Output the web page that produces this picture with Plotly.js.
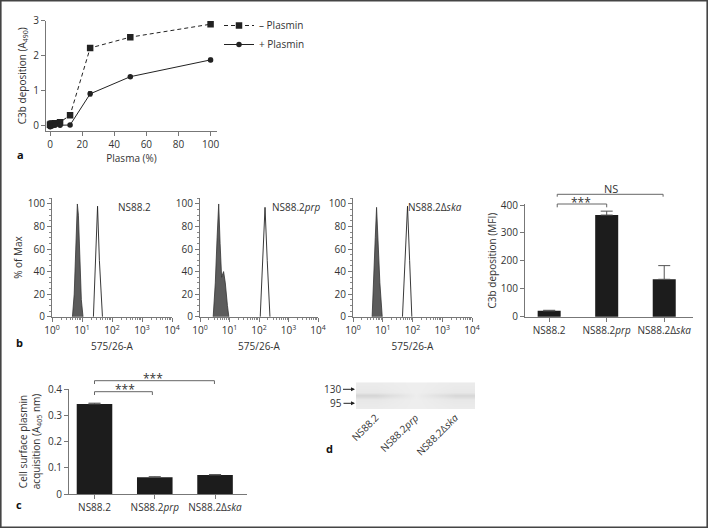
<!DOCTYPE html>
<html><head><meta charset="utf-8">
<script src="https://cdn.plot.ly/plotly-3.0.1.min.js"></script>
<style>html,body{margin:0;padding:0;background:#fff}#chart{width:708px;height:528px}</style>
</head><body><div id="chart"></div><script>
// ---------- Panel a: C3b deposition vs plasma ----------
const plasmaPct = [0, 0.39, 0.78, 1.56, 3.125, 6.25, 12.5, 25, 50, 100];
const c3bMinusPlasmin = [0.03, 0.05, 0.05, 0.06, 0.07, 0.10, 0.30, 2.22, 2.53, 2.90];
const c3bMinusErr = [0.02, 0.02, 0.02, 0.02, 0.02, 0.02, 0.03, 0.04, 0.04, 0.05];
const c3bPlusPlasmin = [-0.03, -0.02, 0.00, 0.00, 0.01, 0.01, 0.02, 0.91, 1.40, 1.88];
const c3bPlusErr = [0.02, 0.02, 0.02, 0.02, 0.02, 0.02, 0.02, 0.06, 0.03, 0.05];
const legendNames = ['\u2013 Plasmin', '+ Plasmin'];

// ---------- Panel b: flow cytometry histograms (575/26-A, % of Max) ----------
const hist1FilledX = [4.8, 5.5, 6.2, 7.0, 7.6, 8.5, 9.5, 10.8];
const hist1FilledY = [0, 20, 60, 100, 90, 50, 15, 0];
const hist1OpenX = [24, 28, 33, 38, 48];
const hist1OpenY = [0, 50, 98, 50, 0];
const hist2FilledX = [2.8, 3.3, 3.8, 4.3, 4.8, 5.4, 6.3, 7.2, 8.5, 9.5];
const hist2FilledY = [0, 30, 70, 100, 65, 35, 40, 30, 10, 0];
const hist2OpenX = [110, 135, 160, 190, 235];
const hist2OpenY = [0, 50, 97, 50, 0];
const hist3FilledX = [4.4, 5.0, 5.6, 6.2, 7.0, 8.0, 9.6];
const hist3FilledY = [0, 30, 70, 97, 60, 30, 0];
const hist3OpenX = [46, 56, 68, 80, 95];
const hist3OpenY = [0, 50, 98, 50, 0];
const histLabels = ['NS88.2', 'NS88.2<i>prp</i>', 'NS88.2\u0394<i>ska</i>'];

// ---------- Panel b (right) and c: bar charts ----------
const strains = ['NS88.2', 'NS88.2<i>prp</i>', 'NS88.2\u0394<i>ska</i>'];
const mfiValues = [21, 364, 134];
const mfiErr = [2, 14, 49];
const plasminValues = [0.344, 0.064, 0.073];
const plasminErr = [0.003, 0.002, 0.001];

// ---------- Panel d: western blot (lane intensity, bottom row first) ----------
const blotRows = [0, 1, 2, 3, 4, 5, 6];
const blotIntensity = [
  [0.07, 0.04, 0.07],
  [0.08, 0.04, 0.08],
  [0.10, 0.04, 0.10],
  [0.26, 0.05, 0.24],
  [0.10, 0.04, 0.10],
  [0.08, 0.04, 0.08],
  [0.07, 0.04, 0.07]
];
const blotMarkers = ['130', '95'];

// ---------- layout helpers ----------
const W = 708, H = 528;
const px = v => v / W, py = v => 1 - v / H;
const FF = 'Open Sans, sans-serif';
const font = {family: FF, size: 10, color: '#333'};
const axBase = {showline: true, linecolor: '#777', linewidth: 1, ticks: 'outside', ticklen: 4,
  tickcolor: '#777', showgrid: false, zeroline: false, tickfont: font, fixedrange: true};
const ax = o => Object.assign({}, axBase, o);

const majorLog = [1, 10, 100, 1000, 10000];
const majorLogText = ['10<sup>0</sup>', '10<sup>1</sup>', '10<sup>2</sup>', '10<sup>3</sup>', '10<sup>4</sup>'];
const minorLog = [];
for (let d = 1; d < 10000; d *= 10) for (let k = 2; k <= 9; k++) minorLog.push(k * d);
const histX = (dom, anchor) => ax({type: 'log', range: [0, 4], domain: dom, anchor: anchor,
  tickvals: majorLog, ticktext: majorLogText,
  minor: {tickvals: minorLog, ticks: 'outside', ticklen: 2, tickcolor: '#888'},
  title: {text: '575/26-A', font: font, standoff: 6}});
const histY = (anchor, withTitle) => ax({range: [-0.3, 105.3], domain: [py(317), py(198)], anchor: anchor,
  tickvals: [0, 20, 40, 60, 80, 100], minor: {dtick: 5, ticks: 'outside', ticklen: 2, tickcolor: '#888'},
  title: withTitle ? {text: '% of Max', font: font, standoff: 3} : {text: ''}});

const traces = [];
// panel a
traces.push({x: plasmaPct, y: c3bMinusPlasmin, name: legendNames[0], type: 'scatter', mode: 'lines+markers',
  xaxis: 'x', yaxis: 'y', line: {color: '#222', width: 1, dash: '4px,3px'},
  marker: {symbol: 'square', size: 6.5, color: '#222'},
  error_y: {type: 'data', array: c3bMinusErr, color: '#222', thickness: 1, width: 2}});
traces.push({x: plasmaPct, y: c3bPlusPlasmin, name: legendNames[1], type: 'scatter', mode: 'lines+markers',
  xaxis: 'x', yaxis: 'y', line: {color: '#222', width: 1},
  marker: {symbol: 'circle', size: 5.5, color: '#222'},
  error_y: {type: 'data', array: c3bPlusErr, color: '#222', thickness: 1, width: 2}});
// histograms
const hists = [[hist1FilledX, hist1FilledY, hist1OpenX, hist1OpenY],
  [hist2FilledX, hist2FilledY, hist2OpenX, hist2OpenY],
  [hist3FilledX, hist3FilledY, hist3OpenX, hist3OpenY]];
hists.forEach((h, i) => {
  const xa = 'x' + (i + 2), ya = 'y' + (i + 2);
  traces.push({x: h[0], y: h[1], type: 'scatter', mode: 'lines', fill: 'tozeroy', fillcolor: '#5c5c5c',
    line: {color: '#333', width: 0.8}, xaxis: xa, yaxis: ya, showlegend: false, hoverinfo: 'skip'});
  traces.push({x: h[2], y: h[3], type: 'scatter', mode: 'lines',
    line: {color: '#222', width: 0.9}, xaxis: xa, yaxis: ya, showlegend: false, hoverinfo: 'skip'});
});
// bar chart b
traces.push({x: strains, y: mfiValues, type: 'bar', xaxis: 'x5', yaxis: 'y5', width: 0.4,
  marker: {color: '#1c1c1c'}, showlegend: false,
  error_y: {type: 'data', symmetric: false, array: mfiErr, arrayminus: [0, 0, 0], color: '#555', thickness: 1, width: 6}});
// bar chart c
traces.push({x: strains, y: plasminValues, type: 'bar', xaxis: 'x6', yaxis: 'y6', width: 0.59,
  marker: {color: '#1c1c1c'}, showlegend: false,
  error_y: {type: 'data', symmetric: false, array: plasminErr, arrayminus: [0, 0, 0], color: '#555', thickness: 1, width: 6}});
// blot d
traces.push({z: blotIntensity, x: strains, y: blotRows, type: 'heatmap', xaxis: 'x7', yaxis: 'y7',
  zmin: 0, zmax: 1, zsmooth: 'best', showscale: false, hoverinfo: 'skip',
  colorscale: [[0, '#f3f3f3'], [1, '#808080']]});

// significance brackets
function bracket(xref, xa, xb, yTop, yBot) {
  const L = {color: '#666', width: 1};
  return [
    {type: 'line', xref: xref, yref: 'paper', x0: xa, x1: xb, y0: py(yTop), y1: py(yTop), line: L},
    {type: 'line', xref: xref, yref: 'paper', x0: xa, x1: xa, y0: py(yTop), y1: py(yBot), line: L},
    {type: 'line', xref: xref, yref: 'paper', x0: xb, x1: xb, y0: py(yTop), y1: py(yBot), line: L}
  ];
}
const shapes = [].concat(
  bracket('x5', 0.14, 1.0, 204, 207.3),
  bracket('x5', 0.14, 1.98, 194.3, 196.7),
  bracket('x6', 0, 0.96, 391.7, 395),
  bracket('x6', 0, 1.99, 380.7, 384),
  [{type: 'rect', xref: 'paper', yref: 'paper', x0: px(0.8), x1: px(707.2), y0: py(527.2), y1: py(0.8),
    line: {color: '#444', width: 1.6}}]
);

const starFont = {family: FF, size: 12, color: '#333'};
const letterFont = {family: FF, size: 11, color: '#111'};
const txt = (text, x, y, xref, f, extra) => Object.assign({text: text, x: x, y: y, xref: xref, yref: 'paper',
  showarrow: false, xanchor: 'center', yanchor: 'middle', font: f}, extra || {});
const annotations = [
  txt('<b>a</b>', px(20), py(154), 'paper', letterFont),
  txt('<b>b</b>', px(19), py(342), 'paper', letterFont),
  txt('<b>c</b>', px(19), py(504), 'paper', letterFont),
  txt('<b>d</b>', px(329), py(448), 'paper', letterFont),
  txt(histLabels[0], px(134), py(207), 'paper', font),
  txt(histLabels[1], px(296), py(207), 'paper', font),
  txt(histLabels[2], px(435), py(207), 'paper', font),
  txt('***', 0.554, py(202.7), 'x5', starFont),
  txt('NS', 1.07, py(188.4), 'x5', {family: FF, size: 11, color: '#333'}),
  txt('***', 0.506, py(389.7), 'x6', starFont),
  txt('***', 0.965, py(378), 'x6', starFont),
  txt('Cell surface plasmin<br>acquisition (A<sub>405</sub> nm)', px(29.5), py(441.7), 'paper', font, {textangle: -90}),
  {text: blotMarkers[0], x: px(355), y: py(389.3), xref: 'paper', yref: 'paper', showarrow: true, ax: -22, ay: 0,
    arrowhead: 2, arrowsize: 0.8, arrowwidth: 1, arrowcolor: '#222', font: font},
  {text: blotMarkers[1], x: px(355), y: py(403.3), xref: 'paper', yref: 'paper', showarrow: true, ax: -19, ay: 0,
    arrowhead: 2, arrowsize: 0.8, arrowwidth: 1, arrowcolor: '#222', font: font}
];

const layout = {
  width: W, height: H, margin: {l: 0, r: 0, t: 0, b: 0}, paper_bgcolor: '#fff', plot_bgcolor: 'rgba(0,0,0,0)',
  font: font, showlegend: true, hovermode: false,
  legend: {x: px(219), y: py(11), xanchor: 'left', yanchor: 'top', font: font, bgcolor: 'rgba(0,0,0,0)',
    itemwidth: 30, tracegroupgap: 0},
  xaxis: ax({domain: [px(46), px(217)], range: [-2.5, 104], dtick: 20, anchor: 'y',
    title: {text: 'Plasma (%)', font: font, standoff: 4}}),
  yaxis: ax({domain: [py(130.7), py(20.7)], range: [-0.143, 3.0], dtick: 1, anchor: 'x',
    title: {text: 'C3b deposition (A<sub>490</sub>)', font: font, standoff: 4}}),
  xaxis2: histX([px(52), px(172)], 'y2'), yaxis2: histY('x2', true),
  xaxis3: histX([px(200), px(318)], 'y3'), yaxis3: histY('x3', false),
  xaxis4: histX([px(353), px(472)], 'y4'), yaxis4: histY('x4', false),
  xaxis5: ax({domain: [px(525), px(693)], range: [-0.42, 2.5], type: 'category', anchor: 'y5'}),
  yaxis5: ax({domain: [py(317.3), py(204)], range: [-2.1, 403.6], dtick: 100, anchor: 'x5',
    title: {text: 'C3b deposition (MFI)', font: font, standoff: 2}}),
  xaxis6: ax({domain: [px(69), px(247)], range: [-0.423, 2.53], type: 'category', anchor: 'y6'}),
  yaxis6: ax({domain: [py(494), py(389.3)], range: [0, 0.4], dtick: 0.1, anchor: 'x6', tickformat: '.1~f'}),
  xaxis7: {domain: [px(356), px(475)], type: 'category', anchor: 'y7', showline: false, ticks: '', showgrid: false,
    zeroline: false, tickangle: -45, tickfont: font, fixedrange: true},
  yaxis7: {domain: [py(409), py(382.3)], anchor: 'x7', showticklabels: false, showline: false, ticks: '',
    showgrid: false, zeroline: false, range: [-0.5, 6.5], fixedrange: true},
  shapes: shapes, annotations: annotations
};

Plotly.newPlot('chart', traces, layout, {staticPlot: true, displayModeBar: false});
</script></body></html>
